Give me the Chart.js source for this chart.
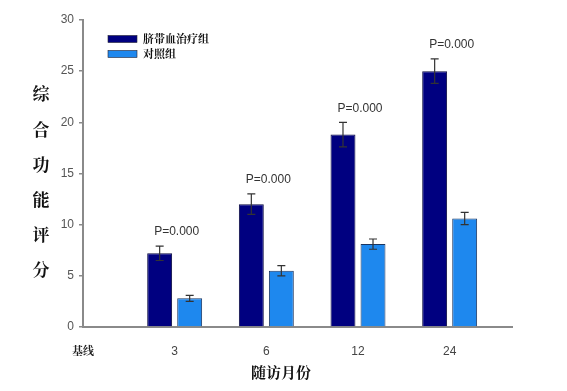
<!DOCTYPE html>
<html>
<head>
<meta charset="utf-8">
<script src="https://cdn.jsdelivr.net/npm/chart.js@4.4.1/dist/chart.umd.min.js"></script>
<style>
  html, body { margin: 0; padding: 0; background: #fff; }
  #wrap { width: 567px; height: 391px; position: relative; }
</style>
</head>
<body>
<div id="wrap"><canvas id="chart" width="567" height="391"></canvas></div>
<script>
// Dados
const xLabels = ['基线', '3', '6', '12', '24'];
const seriesNames = ['脐带血治疗组', '对照组'];
const treated = [7.2, 12.0, 18.8, 25.0];
const treatedErr = [0.7, 1.0, 1.2, 1.2];
const control = [2.8, 5.5, 8.1, 10.6];
const controlErr = [0.3, 0.5, 0.5, 0.6];
const pLabels = ['P=0.000', 'P=0.000', 'P=0.000', 'P=0.000'];
const yTitle = '综合功能评分';
const xTitle = '随访月份';

const DARK = '#000080';
const LIGHT = '#1E88EE';
const AXIS = '#8a8a8a';

const serif = "'Noto Serif CJK SC', 'Noto Sans CJK SC', serif";
const sans = 'Arial, "Liberation Sans", sans-serif';

// barras de erro + rótulos P
const errorBars = {
    id: 'errorBars',
    afterDatasetsDraw(chart) {
        const ctx = chart.ctx;
        const y = chart.scales.y;
        ctx.save();
        ctx.strokeStyle = '#333';
        ctx.lineWidth = 1.2;
        chart.data.datasets.forEach((ds, di) => {
            const meta = chart.getDatasetMeta(di);
            meta.data.forEach((bar, i) => {
                const v = ds.data[i].y;
                const e = ds.errors[i];
                const top = y.getPixelForValue(v + e);
                const bot = y.getPixelForValue(v - e);
                ctx.beginPath();
                ctx.moveTo(bar.x, top); ctx.lineTo(bar.x, bot);
                ctx.moveTo(bar.x - 4, top); ctx.lineTo(bar.x + 4, top);
                ctx.moveTo(bar.x - 4, bot); ctx.lineTo(bar.x + 4, bot);
                ctx.stroke();
            });
        });
        // P labels
        const m0 = chart.getDatasetMeta(0);
        const m1 = chart.getDatasetMeta(1);
        ctx.fillStyle = '#333';
        ctx.font = '12px ' + sans;
        ctx.textAlign = 'center';
        ctx.textBaseline = 'bottom';
        pLabels.forEach((t, i) => {
            const cx = (m0.data[i].x + m1.data[i].x) / 2;
            const top = y.getPixelForValue(treated[i] + treatedErr[i]);
            ctx.fillText(t, cx + 2, top - 8);
        });
        ctx.restore();
    }
};

// títulos e legenda
const extras = {
    id: 'extras',
    afterDraw(chart) {
        const ctx = chart.ctx;
        ctx.save();
        // título Y empilhado
        ctx.fillStyle = '#111';
        ctx.font = 'bold 17px ' + serif;
        ctx.textAlign = 'center';
        ctx.textBaseline = 'middle';
        Array.from(yTitle).forEach((c, i) => {
            ctx.fillText(c, 41, 94 + i * 35.2);
        });
        // título X
        ctx.font = 'bold 15px ' + serif;
        ctx.fillText(xTitle, 281, 372);
        // legenda
        ctx.font = 'bold 11px ' + serif;
        ctx.textAlign = 'left';
        chart.data.datasets.forEach((ds, i) => {
            const yy = 39 + i * 15;
            ctx.fillStyle = ds.backgroundColor;
            ctx.fillRect(108, yy - 3.5, 29, 7);
            ctx.strokeStyle = '#223';
            ctx.lineWidth = 0.6;
            ctx.strokeRect(108, yy - 3.5, 29, 7);
            ctx.fillStyle = '#111';
            ctx.fillText(ds.label, 143, yy);
        });
        ctx.restore();
    }
};

const ctx = document.getElementById('chart').getContext('2d');

new Chart(ctx, {
    type: 'bar',
    data: {
        datasets: [
            {
                label: seriesNames[0],
                data: treated.map((v, i) => ({ x: i + 1, y: v })),
                errors: treatedErr,
                backgroundColor: DARK,
                borderColor: '#0a0a40',
                borderWidth: 1
            },
            {
                label: seriesNames[1],
                data: control.map((v, i) => ({ x: i + 1, y: v })),
                errors: controlErr,
                backgroundColor: LIGHT,
                borderColor: '#1b3560',
                borderWidth: 1
            }
        ]
    },
    options: {
        responsive: false,
        animation: false,
        categoryPercentage: 0.655,
        barPercentage: 0.83,
        layout: { padding: { left: 0, right: 55, top: 20, bottom: 0 } },
        plugins: {
            legend: { display: false },
            tooltip: { enabled: false }
        },
        scales: {
            x: {
                type: 'linear',
                offset: false,
                min: 0,
                max: 4.68,
                grid: { display: false },
                border: { color: AXIS, width: 2 },
                ticks: {
                    stepSize: 1,
                    includeBounds: false,
                    padding: 9,
                    color: (c) => c.index === 0 ? '#222' : '#444',
                    font: (c) => c.index === 0
                        ? { family: serif, size: 11, weight: 'bold' }
                        : { family: sans, size: 12 },
                    callback: (v) => xLabels[v] ?? ''
                },
                afterFit: (s) => { s.height = 64; }
            },
            y: {
                min: 0,
                max: 30,
                grid: {
                    drawOnChartArea: false,
                    drawTicks: true,
                    tickLength: 4,
                    color: AXIS,
                    lineWidth: 1.5
                },
                border: { color: AXIS, width: 2 },
                ticks: {
                    stepSize: 5,
                    padding: 5,
                    color: '#555',
                    font: { family: sans, size: 12 }
                },
                afterFit: (s) => { s.width = 83; }
            }
        }
    },
    plugins: [errorBars, extras]
});
</script>
</body>
</html>
